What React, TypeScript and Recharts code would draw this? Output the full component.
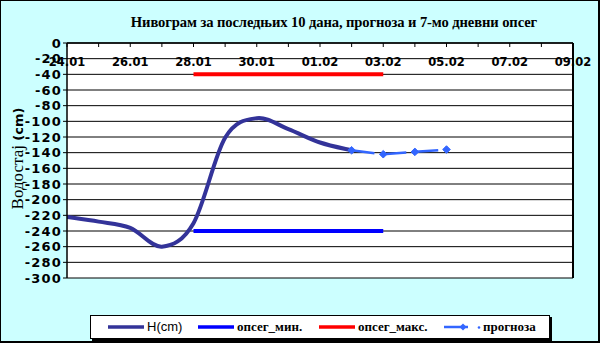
import React from 'react';
import { LineChart, Line, XAxis, YAxis, CartesianGrid, ReferenceLine, Legend } from 'recharts';

const dateLabels = ['24.01', '25.01', '26.01', '27.01', '28.01', '29.01', '30.01', '31.01', '01.02', '02.02', '03.02', '04.02', '05.02', '06.02', '07.02', '08.02', '09.02'];
const dayIndex = dateLabels.map((_, i) => i);
const levelH = [-222, -228, -236, -260, -230, -121, -96, -110, -127, -137];
const forecastStart = 9;
const forecastValues = [-137, -142, -139, -136];
const rangeStart = 4;
const rangeEnd = 10;
const rangeMin = -240;
const rangeMax = -40;
const yTicks = [0, -20, -40, -60, -80, -100, -120, -140, -160, -180, -200, -220, -240, -260, -280, -300];
const titleText = 'Нивограм за последњих 10 дана, прогноза и 7-мо дневни опсег';
const seriesNames = { h: 'H(cm)', min: 'опсег_мин.', max: 'опсег_макс.', f: 'прогноза' };
const legendOrder = ['h', 'min', 'max', 'f'];

const data = dayIndex.map((i) => ({
  i,
  h: i < levelH.length ? levelH[i] : null,
  min: i >= rangeStart && i <= rangeEnd ? rangeMin : null,
  max: i >= rangeStart && i <= rangeEnd ? rangeMax : null,
  f: i >= forecastStart && i < forecastStart + forecastValues.length ? forecastValues[i - forecastStart] : null,
}));

const SANS = '"DejaVu Sans", "Liberation Sans", Arial, sans-serif';
const ARIAL = '"Liberation Sans", Arial, sans-serif';
const SERIF = '"Liberation Serif", "Times New Roman", serif';

// Excel-like smoothed line (uniform Catmull-Rom as cubic Bezier)
const excelSmooth = (context: any) => {
  let pts: number[][] = [];
  return {
    areaStart() {},
    areaEnd() {},
    lineStart() {
      pts = [];
    },
    point(x: number, y: number) {
      pts.push([+x, +y]);
    },
    lineEnd() {
      if (!pts.length) return;
      context.moveTo(pts[0][0], pts[0][1]);
      for (let i = 0; i < pts.length - 1; i++) {
        const p0 = pts[i - 1] || pts[i];
        const p1 = pts[i];
        const p2 = pts[i + 1];
        const p3 = pts[i + 2] || pts[i + 1];
        context.bezierCurveTo(
          p1[0] + (p2[0] - p0[0]) / 6,
          p1[1] + (p2[1] - p0[1]) / 6,
          p2[0] - (p3[0] - p1[0]) / 6,
          p2[1] - (p3[1] - p1[1]) / 6,
          p2[0],
          p2[1]
        );
      }
    },
  };
};

const XTick = (props: any) => {
  const { x, y, payload } = props;
  const v = payload.value;
  const show = v % 2 === 0;
  return (
    <g>
      <line x1={x} y1={y} x2={x} y2={y + 4} stroke="#000" strokeWidth={1} />
      {show && (
        <text x={x} y={y + 23} textAnchor="middle" fill="#000" fontFamily={SANS} fontWeight="bold" fontSize={11.5}>
          {dateLabels[v]}
        </text>
      )}
    </g>
  );
};

const YTick = (props: any) => {
  const { x, y, payload } = props;
  return (
    <text x={x} y={y} dy={4.6} textAnchor="end" fill="#000" fontFamily={SANS} fontWeight="bold" fontSize={13} style={{ letterSpacing: 1.2 }}>
      {payload.value}
    </text>
  );
};

const YLabel = (props: any) => {
  const vb = props.viewBox || { x: 0, y: 43, width: 67, height: 235 };
  const cx = vb.x + 23;
  const cy = vb.y + vb.height / 2 - 2;
  return (
    <text x={cx} y={cy} textAnchor="middle" transform={`rotate(-90, ${cx}, ${cy})`} fill="#000">
      <tspan fontFamily={SERIF} fontSize={17}>Водостај </tspan>
      <tspan fontFamily={SANS} fontWeight="bold" fontSize={13}>(cm)</tspan>
    </text>
  );
};

const Diamond = (props: any) => {
  const { cx, cy } = props;
  if (cx == null || cy == null) return null;
  const r = 3.8;
  return <polygon points={`${cx},${cy - r} ${cx + r},${cy} ${cx},${cy + r} ${cx - r},${cy}`} fill="#3366FF" stroke="#3366FF" />;
};

const legendOffsets = [17, 107, 228, 353];

const LegendContent = (props: any) => {
  const raw = props.payload || [];
  const items = legendOrder.map((k) => raw.find((it: any) => it.dataKey === k)).filter(Boolean);
  return (
    <div style={{ position: 'relative', width: 460, height: 24, background: '#fff', border: '1px solid #000', boxShadow: '2px 2px 0 #000', boxSizing: 'border-box' }}>
      {items.map((it: any, k: number) => {
        const isF = it.dataKey === 'f';
        const isH = it.dataKey === 'h';
        return (
          <div key={k} style={{ position: 'absolute', left: legendOffsets[k], top: 0, height: 22, display: 'flex', alignItems: 'center', whiteSpace: 'nowrap' }}>
            <svg width={isF ? 38 : 37} height={10} style={{ display: 'block' }}>
              {isF ? (
                <g>
                  <line x1={0} y1={5} x2={24} y2={5} stroke={it.color} strokeWidth={2.5} />
                  <polygon points="19,1.5 22.5,5 19,8.5 15.5,5" fill={it.color} />
                  <circle cx={35} cy={5.5} r={1.3} fill={it.color} />
                </g>
              ) : (
                <line x1={0} y1={5} x2={36} y2={5} stroke={it.color} strokeWidth={3.5} />
              )}
            </svg>
            <span style={{ marginLeft: isF ? 1 : 2, fontFamily: isH ? ARIAL : SERIF, fontWeight: isH ? 'normal' : 'bold', fontSize: 13, color: '#000', lineHeight: '22px' }}>
              {it.value}
            </span>
          </div>
        );
      })}
    </div>
  );
};

export default function App() {
  return (
    <div style={{ position: 'absolute', left: 0, top: 0, width: 600, height: 343, background: '#CCFFFF', boxSizing: 'border-box', border: '1px solid #000', borderRightWidth: 2, borderBottomWidth: 2, overflow: 'hidden' }}>
      <div style={{ position: 'absolute', left: -1, top: -1, width: 600, height: 343 }}>
        <LineChart width={600} height={343} data={data} margin={{ top: 0, left: 0, right: 27, bottom: 65 }}>
          <CartesianGrid vertical={false} horizontal={true} stroke="#000" strokeWidth={1} fill="#fff" fillOpacity={1} />
          <XAxis
            dataKey="i"
            type="number"
            orientation="top"
            domain={[0, 16]}
            ticks={dayIndex}
            interval={0}
            height={43}
            tickSize={0}
            tickMargin={0}
            tickLine={false}
            axisLine={{ stroke: '#000', strokeWidth: 1.5 }}
            tick={<XTick />}
            allowDataOverflow
          />
          <YAxis
            type="number"
            domain={[-300, 0]}
            ticks={yTicks}
            interval={0}
            width={67}
            tickSize={4}
            tickMargin={1}
            tickLine={{ stroke: '#000' }}
            axisLine={{ stroke: '#000', strokeWidth: 1.5 }}
            tick={<YTick />}
            label={(p: any) => <YLabel {...p} />}
            allowDataOverflow
          />
          <ReferenceLine x={16} stroke="#000" strokeWidth={2} />
          <Line type={excelSmooth as any} dataKey="h" name={seriesNames.h} stroke="#333399" strokeWidth={4} dot={false} activeDot={false} isAnimationActive={false} />
          <Line type="linear" dataKey="min" name={seriesNames.min} stroke="#0000FF" strokeWidth={4} dot={false} activeDot={false} isAnimationActive={false} />
          <Line type="linear" dataKey="max" name={seriesNames.max} stroke="#FF0000" strokeWidth={4} dot={false} activeDot={false} isAnimationActive={false} />
          <Line type="linear" dataKey="f" name={seriesNames.f} stroke="#3366FF" strokeWidth={2.5} strokeDasharray="23 9" dot={<Diamond />} activeDot={false} isAnimationActive={false} />
          <Legend
            layout="vertical"
            align="center"
            verticalAlign="middle"
            wrapperStyle={{ left: 90, top: 315, width: 460, height: 24 }}
            content={<LegendContent />}
          />
        </LineChart>
      </div>
      <div style={{ position: 'absolute', left: -1, top: 14, width: 668, textAlign: 'center', fontFamily: SERIF, fontWeight: 'bold', fontSize: 14.6, lineHeight: '14px', color: '#000', whiteSpace: 'nowrap', letterSpacing: -0.1 }}>
        {titleText}
      </div>
    </div>
  );
}
